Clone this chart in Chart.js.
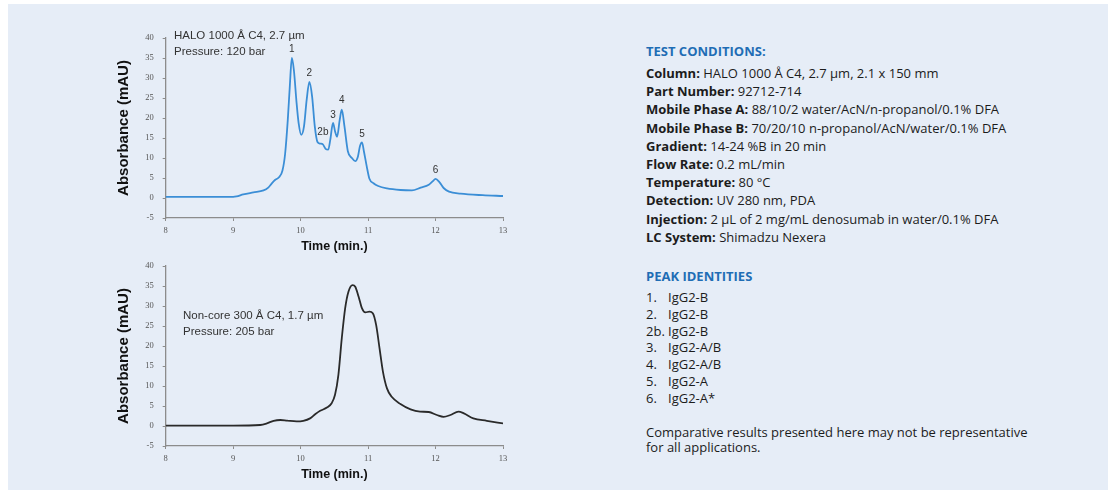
<!DOCTYPE html>
<html>
<head>
<meta charset="utf-8">
<script src="https://cdn.jsdelivr.net/npm/chart.js@4.4.1/dist/chart.umd.min.js"></script>
<style>
  html, body { margin: 0; padding: 0; background: #fff; }
  body { width: 1108px; height: 490px; position: relative; overflow: hidden; }
  #panel { position: absolute; left: 8px; top: 4px; right: 0; bottom: 0; background: #e6edf7; }
  canvas { position: absolute; }
  #chart1 { left: 100px; top: 22px; }
  #chart2 { left: 100px; top: 250px; }
  .note { position: absolute; font-family: "Liberation Sans", Arial, sans-serif; font-size: 11.5px;
          line-height: 16px; color: #333; white-space: nowrap; }
  #info { position: absolute; left: 646px; top: 41px; font-family: "Open Sans", Lato, sans-serif;
          font-size: 13px; color: #1c1c1c; white-space: nowrap; }
  #info h3 { margin: 0 0 3px 0; font-size: 13px; font-weight: bold; color: #1f6db5; line-height: 20px; }
  #info .row { line-height: 18.2px; }
  #info .row b { font-weight: bold; }
  #info .peaks { line-height: 16.8px; }
  #info .peaks span { display: inline-block; width: 22px; }
</style>
</head>
<body>
<div id="panel"></div>
<canvas id="chart1" width="420" height="235"></canvas>
<canvas id="chart2" width="420" height="235"></canvas>
<div class="note" style="left:174px; top:27px;">HALO 1000 Å C4, 2.7 µm<br>Pressure: 120 bar</div>
<div class="note" style="left:183px; top:307px;">Non-core 300 Å C4, 1.7 µm<br>Pressure: 205 bar</div>

<div id="info">
  <h3>TEST CONDITIONS:</h3>
  <div class="row"><b>Column:</b> HALO 1000 Å C4, 2.7 µm, 2.1 x 150 mm</div>
  <div class="row"><b>Part Number:</b> 92712-714</div>
  <div class="row"><b>Mobile Phase A:</b> 88/10/2 water/AcN/n-propanol/0.1% DFA</div>
  <div class="row"><b>Mobile Phase B:</b> 70/20/10 n-propanol/AcN/water/0.1% DFA</div>
  <div class="row"><b>Gradient:</b> 14-24 %B in 20 min</div>
  <div class="row"><b>Flow Rate:</b> 0.2 mL/min</div>
  <div class="row"><b>Temperature:</b> 80 °C</div>
  <div class="row"><b>Detection:</b> UV 280 nm, PDA</div>
  <div class="row"><b>Injection:</b> 2 µL of 2 mg/mL denosumab in water/0.1% DFA</div>
  <div class="row"><b>LC System:</b> Shimadzu Nexera</div>
  <h3 style="margin-top:20px;">PEAK IDENTITIES</h3>
  <div id="peakList" class="peaks"></div>
  <div style="margin-top:18px; line-height:15.5px;">Comparative results presented here may not be representative<br>for all applications.</div>
</div>

<script>
// HALO 1000 Å C4 trace
const time1 = [8.0, 8.5, 9.0, 9.05, 9.15, 9.30, 9.45, 9.52, 9.57, 9.62, 9.68, 9.73, 9.77, 9.81, 9.84,
  9.87, 9.90, 9.94, 9.97, 10.01, 10.05, 10.09, 10.13, 10.17, 10.21, 10.25, 10.29, 10.33, 10.37, 10.41,
  10.44, 10.48, 10.51, 10.54, 10.58, 10.61, 10.65, 10.70, 10.76, 10.81, 10.85, 10.88, 10.91, 10.94, 10.98,
  11.02, 11.08, 11.15, 11.28, 11.48, 11.65, 11.78, 11.90, 11.96, 12.00, 12.06, 12.12, 12.20, 12.37, 12.70, 13.0];
const abs1 = [0.3, 0.3, 0.3, 0.4, 0.9, 1.4, 1.9, 2.6, 3.6, 4.5, 5.2, 6.8, 11, 19.6, 28,
  35, 32, 23.8, 18.8, 15.8, 17.9, 24.6, 29, 25.4, 17.9, 14, 13.6, 13.4, 12.3, 12.1,
  14.6, 18.8, 16.7, 15.3, 19.6, 22.1, 17.9, 11.7, 10, 9.2, 10.4, 13, 13.9, 11.5, 7.9,
  4.8, 3.7, 3.0, 2.4, 2.0, 1.9, 2.6, 3.3, 4.2, 4.8, 3.9, 2.5, 1.6, 1.1, 0.7, 0.5];

// Non-core 300 Å C4 trace
const time2 = [8.0, 9.0, 9.4, 9.5, 9.6, 9.7, 9.8, 9.94, 10.04, 10.14, 10.22, 10.29, 10.39, 10.46, 10.51,
  10.56, 10.61, 10.66, 10.71, 10.77, 10.81, 10.86, 10.91, 10.96, 11.02, 11.07, 11.12, 11.17, 11.22, 11.28,
  11.35, 11.48, 11.63, 11.77, 11.90, 12.02, 12.12, 12.22, 12.34, 12.42, 12.56, 12.76, 13.0];
const abs2 = [0.1, 0.1, 0.25, 0.65, 1.3, 1.5, 1.35, 1.15, 1.3, 1.9, 3, 3.8, 4.6, 5.7, 7.8,
  12.8, 21.9, 29.4, 33.6, 35.2, 34.8, 32.3, 29.4, 28.4, 28.6, 28.2, 25.2, 19.4, 13.6, 9.4,
  7.3, 5.5, 4.15, 3.6, 3.5, 2.75, 2.3, 2.75, 3.6, 3.15, 1.9, 1.3, 0.65];

// peak numbering on the HALO trace
const peakNames = ['1', '2', '2b', '3', '4', '5', '6'];
const peakTimes = [9.87, 10.13, 10.33, 10.48, 10.61, 10.91, 12.00];
const peakIds = ['IgG2-B', 'IgG2-B', 'IgG2-B', 'IgG2-A/B', 'IgG2-A/B', 'IgG2-A', 'IgG2-A*'];

const xTicks = [8, 9, 10, 11, 12, 13];
const yTicks = [-5, 0, 5, 10, 15, 20, 25, 30, 35, 40];

document.getElementById('peakList').innerHTML = peakNames.map(function(n, i) {
  return '<div><span>' + n + '.</span>' + peakIds[i] + '</div>';
}).join('');

const peakLabelPlugin = {
  id: 'peakLabels',
  afterDatasetsDraw(chart, args, opts) {
    if (!opts.names) return;
    const ctx = chart.ctx;
    const x = chart.scales.x, y = chart.scales.y;
    ctx.save();
    ctx.font = opts.font;
    ctx.fillStyle = opts.color;
    ctx.textAlign = 'center';
    ctx.textBaseline = 'bottom';
    opts.names.forEach(function(name, i) {
      const t = opts.times[i];
      const v = opts.values[opts.xs.indexOf(t)];
      const lift = (opts.lift && opts.lift[i]) || 4;
      ctx.fillText(name, x.getPixelForValue(t), y.getPixelForValue(v) - lift);
    });
    ctx.restore();
  }
};

function makeChart(id, xs, ys, color, peaks) {
  const axisColor = '#8c8c8c';
  const tickFont = { family: '"Liberation Serif", serif', size: 8.5 };
  return new Chart(document.getElementById(id), {
    type: 'line',
    data: {
      datasets: [{
        data: xs.map(function(t, i) { return { x: t, y: ys[i] }; }),
        borderColor: color,
        borderWidth: 1.8,
        pointRadius: 0,
        tension: 0.4,
        cubicInterpolationMode: 'monotone',
        fill: false
      }]
    },
    options: {
      responsive: false,
      animation: false,
      layout: { padding: { top: 16, right: 17, left: 0, bottom: 0 } },
      plugins: {
        legend: { display: false },
        tooltip: { enabled: false },
        peakLabels: peaks
      },
      scales: {
        x: {
          type: 'linear',
          min: 8, max: 13,
          afterBuildTicks: function(s) { s.ticks = xTicks.map(function(v) { return { value: v }; }); },
          afterFit: function(s) { s.height = 39; },
          border: { display: true, color: axisColor, width: 1.3 },
          grid: { drawOnChartArea: false, drawTicks: true, tickLength: 3, color: axisColor },
          ticks: { color: '#555', font: tickFont, padding: 5, maxRotation: 0 },
          title: {
            display: true,
            text: 'Time (min.)',
            color: '#111',
            font: { family: '"Liberation Sans", Arial, sans-serif', size: 12.5, weight: 'bold' },
            padding: { top: 0, bottom: 3 }
          }
        },
        y: {
          min: -5, max: 40,
          afterBuildTicks: function(s) { s.ticks = yTicks.map(function(v) { return { value: v }; }); },
          afterFit: function(s) { s.width = 65.7; },
          border: { display: true, color: axisColor, width: 1.3 },
          grid: { drawOnChartArea: false, drawTicks: true, tickLength: 3, color: axisColor },
          ticks: { color: '#555', font: tickFont, padding: 9 },
          title: {
            display: true,
            text: 'Absorbance (mAU)',
            color: '#111',
            font: { family: '"Liberation Sans", Arial, sans-serif', size: 15, weight: 'bold' },
            padding: { top: 15, bottom: 0 }
          }
        }
      }
    },
    plugins: [peakLabelPlugin]
  });
}

makeChart('chart1', time1, abs1, '#3b8ed6', {
  names: peakNames, times: peakTimes, xs: time1, values: abs1,
  lift: [4, 4, 7, 3, 4, 3, 4],
  font: '10px "Liberation Sans", Arial, sans-serif', color: '#333'
});
makeChart('chart2', time2, abs2, '#2a2a2a', {});
</script>
</body>
</html>
